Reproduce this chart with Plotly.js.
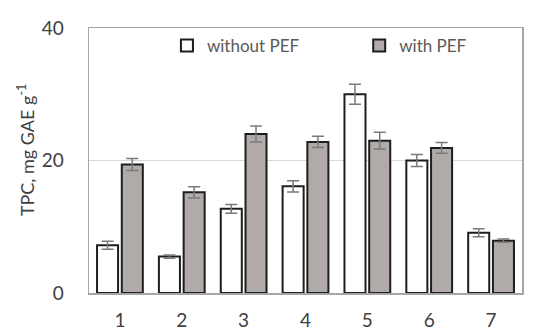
<!DOCTYPE html>
<html>
<head>
<meta charset="utf-8">
<script src="https://cdn.plot.ly/plotly-3.0.1.min.js"></script>
<style>html,body{margin:0;padding:0;background:#fff;}#chart{width:536px;height:332px;}</style>
</head>
<body>
<div id="chart"></div>
<script>
const categories = ['1', '2', '3', '4', '5', '6', '7'];
const withoutPEF = [7.2, 5.5, 12.7, 16.1, 30.0, 20.0, 9.1];
const withoutPEFErr = [0.6, 0.25, 0.65, 0.85, 1.5, 0.9, 0.6];
const withPEF = [19.4, 15.2, 24.0, 22.8, 23.0, 21.9, 7.9];
const withPEFErr = [0.9, 0.85, 1.2, 0.85, 1.25, 0.8, 0.25];
const yTicks = [0, 20, 40];
const yTitle = 'TPC, mg GAE g<sup>-1</sup>';

const font = 'Lato, "Open Sans", sans-serif';
const errStyle = {type: 'data', visible: true, color: '#7a7a7a', thickness: 1.5, width: 6};

const traces = [
  {
    type: 'bar', name: 'without PEF', x: categories, y: withoutPEF, legend: 'legend',
    error_y: Object.assign({array: withoutPEFErr}, errStyle),
    marker: {color: '#ffffff', line: {color: '#1e1e1e', width: 2}}
  },
  {
    type: 'bar', name: 'with PEF', x: categories, y: withPEF, legend: 'legend2',
    error_y: Object.assign({array: withPEFErr}, errStyle),
    marker: {color: '#b0aba9', line: {color: '#1e1e1e', width: 2}}
  }
];

const legendBase = {
  orientation: 'h', y: 1.0, xanchor: 'left', yanchor: 'top',
  font: {family: font, size: 17, color: '#595959'},
  bgcolor: 'rgba(0,0,0,0)', itemwidth: 30
};

const layout = {
  width: 536, height: 332,
  margin: {l: 89, r: 14, t: 28, b: 39},
  paper_bgcolor: '#ffffff', plot_bgcolor: '#ffffff',
  barmode: 'group', bargap: 0.2, bargroupgap: 0.15,
  showlegend: true,
  legend: Object.assign({x: 0.18}, legendBase),
  legend2: Object.assign({x: 0.624}, legendBase),
  xaxis: {
    type: 'category', showline: true, linecolor: '#a6a6a6', linewidth: 1.5, mirror: true,
    ticks: 'outside', ticklen: 10, tickcolor: 'rgba(0,0,0,0)',
    tickfont: {family: font, size: 19, color: '#404040'}, showgrid: false, zeroline: false
  },
  yaxis: {
    range: [0, 40], tickvals: yTicks, ticktext: yTicks.map(String),
    showline: true, linecolor: '#a6a6a6', linewidth: 1.5, mirror: true,
    ticks: 'outside', ticklen: 20, tickcolor: 'rgba(0,0,0,0)',
    tickfont: {family: font, size: 19, color: '#404040'},
    showgrid: true, gridcolor: '#d9d9d9', gridwidth: 1.5, zeroline: false
  },
  annotations: [{
    text: yTitle, xref: 'paper', yref: 'paper', x: -0.145, y: 0.54,
    xanchor: 'center', yanchor: 'middle', textangle: -90, showarrow: false,
    font: {family: font, size: 18, color: '#404040'}
  }]
};

Plotly.newPlot('chart', traces, layout, {displayModeBar: false, staticPlot: true});
</script>
</body>
</html>
